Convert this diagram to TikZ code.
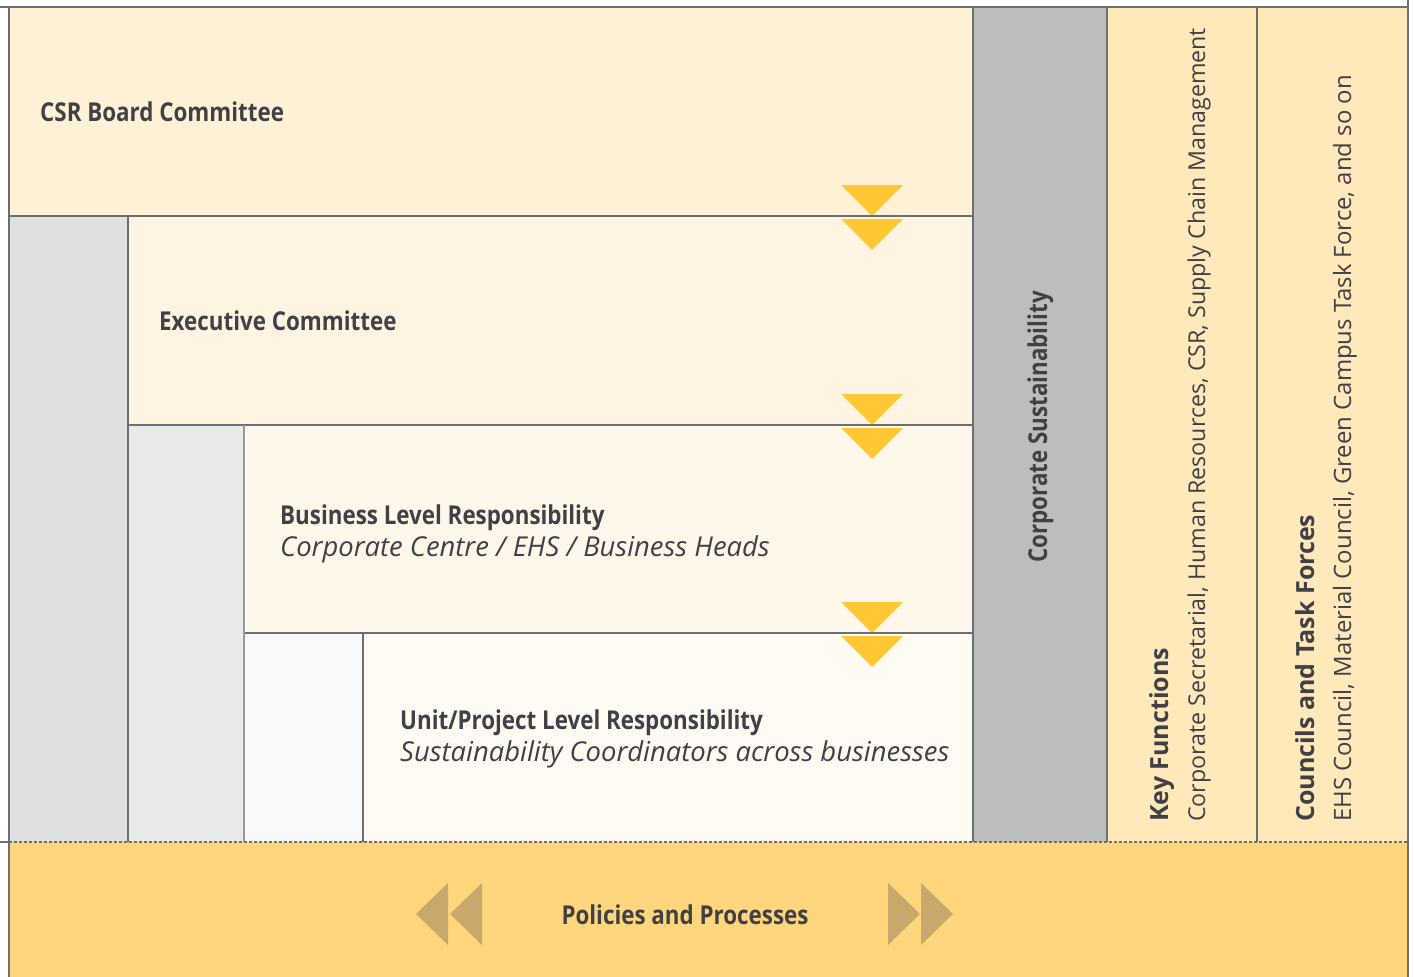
\documentclass[tikz,border=0pt]{standalone}
\usepackage{fontspec}
\setmainfont{Open Sans}
\newfontfamily\headfont[FakeStretch=0.86]{Open Sans}
\definecolor{csrc}{HTML}{FFF1D6}
\definecolor{exec}{HTML}{FFF4E1}
\definecolor{busc}{HTML}{FFF7EA}
\definecolor{unitc}{HTML}{FFFBF3}
\definecolor{grayA}{HTML}{DFE0E0}
\definecolor{grayB}{HTML}{E8E9E9}
\definecolor{grayC}{HTML}{F9F9F9}
\definecolor{corpc}{HTML}{BCBDBF}
\definecolor{keyc}{HTML}{FFE8B9}
\definecolor{bandc}{HTML}{FFD67C}
\definecolor{arrc}{HTML}{FFC734}
\definecolor{tanc}{HTML}{C8A86B}
\definecolor{txtc}{HTML}{404045}
\definecolor{linec}{HTML}{6D6E70}
\tikzset{
  rule/.style={draw=linec, line width=1.5pt},
  head/.style={text=txtc, font=\headfont\bfseries\fontsize{26}{30}\selectfont, inner sep=0pt},
  sub/.style={text=txtc, font=\itshape\fontsize{27.4}{31}\selectfont, inner sep=0pt},
  rhead/.style={text=txtc, font=\bfseries\fontsize{25}{30}\selectfont, inner sep=0pt, rotate=90, anchor=base west},
  rsub/.style={text=txtc, font=\fontsize{23.2}{27}\selectfont, inner sep=0pt, rotate=90, anchor=base west},
  downarr/.style={fill=arrc},
  sidearr/.style={fill=tanc}
}
\begin{document}
\begin{tikzpicture}[x=1pt,y=-1pt]
\useasboundingbox (0,0) rectangle (1414,977);
% fills
\fill[csrc] (9,7) rectangle (973,216);
\fill[grayA] (9,216) rectangle (128,842);
\fill[exec] (128,216) rectangle (973,425);
\fill[grayB] (128,425) rectangle (244,842);
\fill[busc] (244,425) rectangle (973,633);
\fill[grayC] (244,633) rectangle (363,842);
\fill[unitc] (363,633) rectangle (973,842);
\fill[corpc] (973,7) rectangle (1107,842);
\fill[keyc] (1107,7) rectangle (1408,842);
\fill[bandc] (9,842) rectangle (1408,977);
% down arrows
\foreach \y in {216,425,633}{
  \fill[downarr] (841,\y-31) -- (903,\y-31) -- (872,\y) -- cycle;
  \fill[downarr] (841,\y+3) -- (903,\y+3) -- (872,\y+34) -- cycle;
}
% side arrows
\fill[sidearr] (416,914) -- (448,883) -- (448,945) -- cycle;
\fill[sidearr] (450,914) -- (482,883) -- (482,945) -- cycle;
\fill[sidearr] (920,914) -- (888,883) -- (888,945) -- cycle;
\fill[sidearr] (953,914) -- (921,883) -- (921,945) -- cycle;
% rules
\draw[rule] (0,7) -- (1408,7);
\draw[rule] (9,7) -- (9,977);
\draw[rule] (1408,0) -- (1408,977);
\draw[rule] (9,216) -- (973,216);
\draw[rule] (128,425) -- (973,425);
\draw[rule] (244,633) -- (973,633);
\draw[rule] (128,216) -- (128,842);
\draw[draw=linec!70, line width=1.5pt] (244,425) -- (244,842);
\draw[rule] (363,633) -- (363,842);
\draw[rule] (973,7) -- (973,842);
\draw[rule] (1107,7) -- (1107,842);
\draw[rule] (1257,7) -- (1257,842);
\draw[rule] (0,842) -- (9,842);
\draw[draw=linec, line width=1.2pt, dash pattern=on 3pt off 2pt] (9,842) -- (1408,842);
% texts
\node[head, anchor=base west] (csr) at (40,121) {CSR Board Committee};
\node[head, anchor=base west] (exe) at (159,330) {Executive Committee};
\node[head, anchor=base west] (bus) at (280,524) {Business Level Responsibility};
\node[sub, anchor=base west] (bussub) at (280,556) {Corporate Centre / EHS / Business Heads};
\node[head, anchor=base west] (unit) at (400,729) {Unit/Project Level Responsibility};
\node[sub, anchor=base west] (unitsub) at (400,761) {Sustainability Coordinators across businesses};
\node[head, anchor=base] (pol) at (685,924) {Policies and Processes};
\node[head, rotate=90, anchor=base] (corp) at (1047,427) {Corporate Sustainability};
\node[rhead] (key) at (1168,822) {Key Functions};
\node[rsub] (keysub) at (1205,822) {Corporate Secretarial, Human Resources, CSR, Supply Chain Management};
\node[rhead] (cou) at (1314,822) {Councils and Task Forces};
\node[rsub, font=\fontsize{23.9}{27}\selectfont] (cousub) at (1351,822) {EHS Council, Material Council, Green Campus Task Force, and so on};
\end{tikzpicture}
\end{document}
